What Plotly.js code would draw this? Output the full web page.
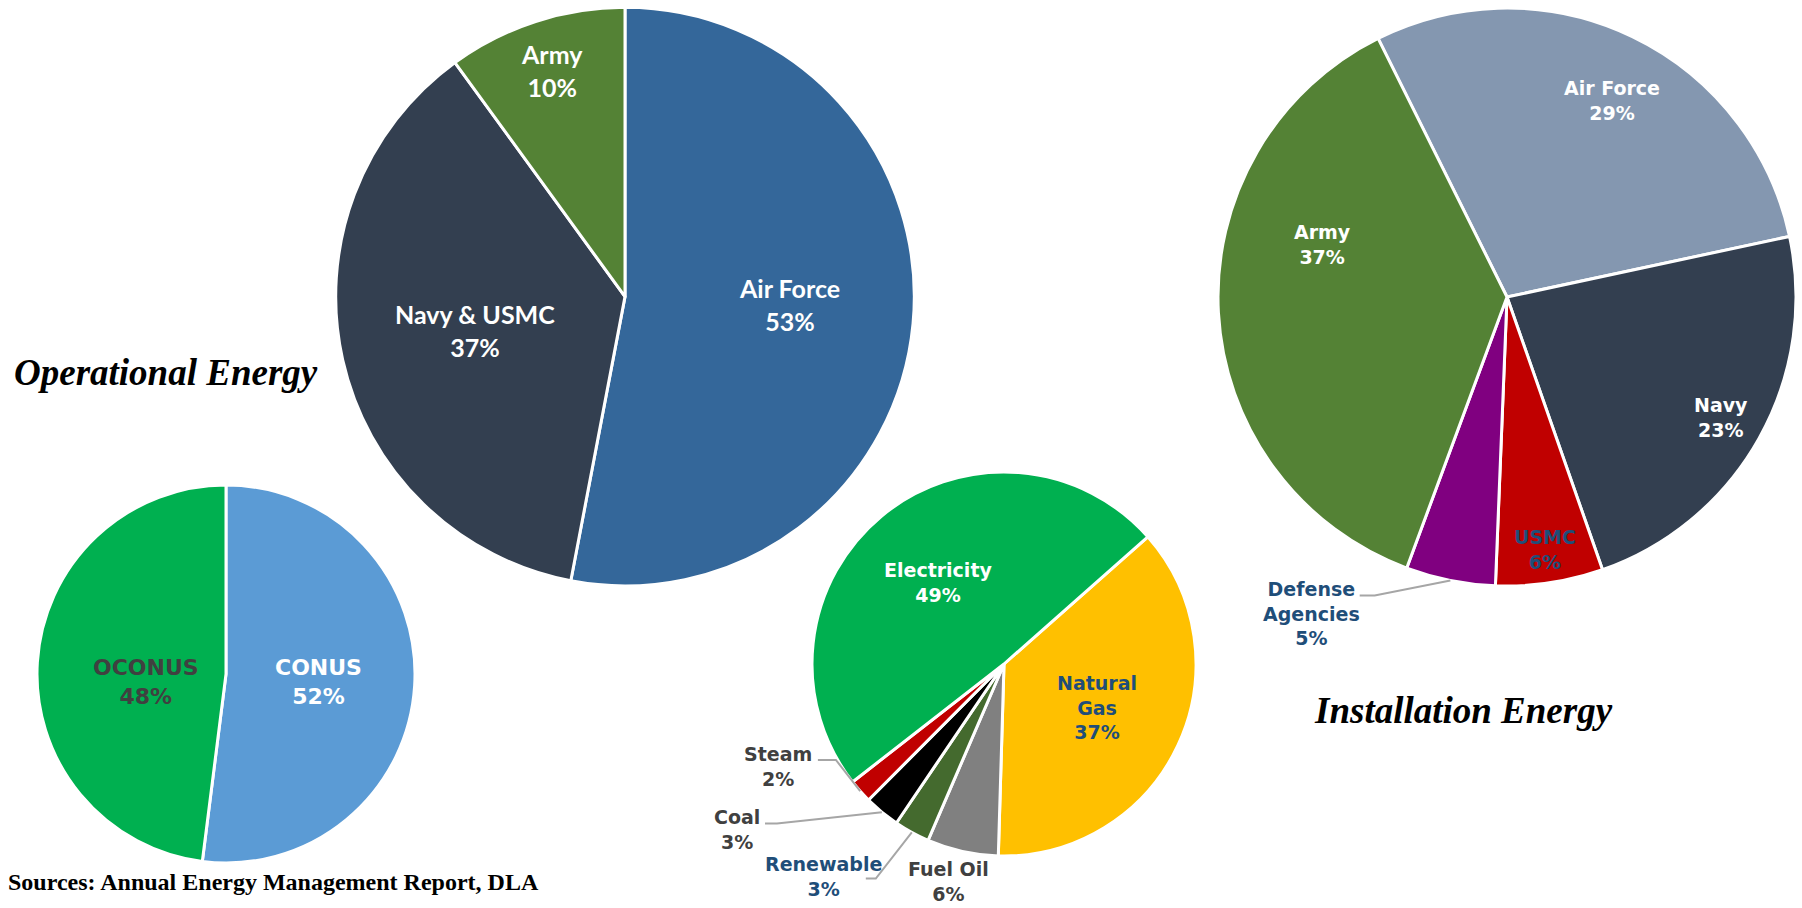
<!DOCTYPE html>
<html><head><meta charset="utf-8">
<script src="https://cdn.plot.ly/plotly-3.0.1.min.js"></script>
<style>html,body{margin:0;padding:0;background:#fff;} #chart{width:1802px;height:908px;}</style>
</head><body><div id="chart"></div>
<script>
// ---- Data ----
// Operational energy by service
const opLabels = ['Air Force', 'Navy & USMC', 'Army'];
const opValues = [53, 37, 10];
// Operational energy by location
const locLabels = ['CONUS', 'OCONUS'];
const locValues = [52, 48];
// Installation energy by fuel type
const fuelLabels = ['Natural Gas', 'Fuel Oil', 'Renewable', 'Coal', 'Steam', 'Electricity'];
const fuelValues = [37, 6, 3, 3, 2, 49];
// Installation energy by component
const instLabels = ['Air Force', 'Navy', 'USMC', 'Defense Agencies', 'Army'];
const instValues = [29, 23, 6, 5, 37];

// ---- Layout / style ----
const W = 1802, H = 908;
const pies = [
  {labels: opLabels, values: opValues, cx: 625, cy: 296.6, r: 289.3, rotation: 0,
   colors: ['#34679A', '#333F50', '#548235'], textColors: ['#FFFFFF', '#FFFFFF', '#FFFFFF'],
   family: 'Lato, sans-serif', size: 25, bold: true,
   place: [[0.569, -2.6], [0.530, 0], [0.822, 0]], wrap: [false, false, false]},
  {labels: locLabels, values: locValues, cx: 226, cy: 674, r: 189, rotation: 0,
   colors: ['#5B9BD5', '#00B050'], textColors: ['#FFFFFF', '#404040'],
   family: 'DejaVu Sans', size: 22, bold: true,
   place: [[0.494, 1.6], [0.427, -9.6]], wrap: [false, false]},
  {labels: fuelLabels, values: fuelValues, cx: 1004, cy: 664, r: 192, rotation: 48.5,
   colors: ['#FFC000', '#808080', '#446A2E', '#000000', '#C00000', '#00B050'],
   textColors: ['#1F4E79', '#404040', '#1F4E79', '#404040', '#404040', '#FFFFFF'],
   family: 'DejaVu Sans', size: 19, bold: true,
   place: [[0.536, 0.2], [1.17, 1.8], [1.45, 11.7], [1.639, 18.7], [1.29, 17.1], [0.548, 0.9]],
   wrap: [true, false, false, false, false, false]},
  {labels: instLabels, values: instValues, cx: 1507, cy: 297, r: 289, rotation: -26.5,
   colors: ['#8497B0', '#333F50', '#C00000', '#800080', '#548235'],
   textColors: ['#FFFFFF', '#FFFFFF', '#1F4E79', '#1F4E79', '#FFFFFF'],
   family: 'DejaVu Sans', size: 19, bold: true,
   place: [[0.771, 2.5], [0.85, 0], [0.883, 0], [1.289, 20.4], [0.663, 18.95]],
   wrap: [false, false, false, true, false]}
];
// leader lines: pie index, slice index, elbow [radial factor, angle offset], horizontal segment length
const leaders = [
  {pie: 2, slice: 4, elbow: [1.008, 11.8], hl: -18},
  {pie: 2, slice: 3, elbow: [1.445, 15.4], hl: -12},
  {pie: 2, slice: 2, elbow: [1.302, 2.15], hl: -10},
  {pie: 3, slice: 3, elbow: [1.13, 12.6], hl: -15}
];

// ---- helpers ----
const sum = a => a.reduce((s, v) => s + v, 0);
const px = x => x / W;
const py = y => 1 - y / H;
function mids(p) {
  const t = sum(p.values); let c = 0;
  return p.values.map(v => { const m = p.rotation + 360 * (c + v / 2) / t; c += v; return m; });
}
function polar(p, f, ang) {
  const a = ang * Math.PI / 180;
  return [p.cx + f * p.r * Math.sin(a), p.cy - f * p.r * Math.cos(a)];
}

const traces = [], annotations = [], shapes = [];
pies.forEach(p => {
  traces.push({
    type: 'pie', labels: p.labels, values: p.values, sort: false,
    direction: 'clockwise', rotation: p.rotation,
    marker: {colors: p.colors, line: {color: '#FFFFFF', width: 3}},
    textinfo: 'none', hoverinfo: 'label+percent', showlegend: false,
    domain: {x: [px(p.cx - p.r), px(p.cx + p.r)], y: [py(p.cy + p.r), py(p.cy - p.r)]}
  });
  const t = sum(p.values);
  const m = mids(p);
  p.mid = m;
  p.labels.forEach((lab, i) => {
    const name = p.wrap[i] ? lab.replace(' ', '<br>') : lab;
    let txt = name + '<br>' + Math.round(p.values[i] / t * 100) + '%';
    if (p.bold) txt = '<b>' + txt.split('<br>').join('</b><br><b>') + '</b>';
    const [x, y] = polar(p, p.place[i][0], m[i] + p.place[i][1]);
    annotations.push({
      text: txt, x: px(x), y: py(y), xref: 'paper', yref: 'paper',
      xanchor: 'center', yanchor: 'middle', showarrow: false, align: 'center',
      font: {family: p.family, size: p.size, color: p.textColors[i]}
    });
  });
});
leaders.forEach(l => {
  const p = pies[l.pie];
  const s = polar(p, 1.0, p.mid[l.slice]);
  const e = polar(p, l.elbow[0], p.mid[l.slice] + l.elbow[1]);
  const f = [e[0] + l.hl, e[1]];
  shapes.push({
    type: 'path', xref: 'paper', yref: 'paper', layer: 'above',
    path: `M ${px(s[0])} ${py(s[1])} L ${px(e[0])} ${py(e[1])} L ${px(f[0])} ${py(f[1])}`,
    line: {color: '#A6A6A6', width: 2}
  });
});

annotations.push({
  text: '<b><i>Operational Energy</i></b>', x: px(11.5), y: py(372.5), xref: 'paper', yref: 'paper',
  xanchor: 'left', yanchor: 'middle', showarrow: false,
  font: {family: 'Liberation Serif', size: 37, color: '#000000'}
});
annotations.push({
  text: '<b><i>Installation Energy</i></b>', x: px(1312), y: py(710), xref: 'paper', yref: 'paper',
  xanchor: 'left', yanchor: 'middle', showarrow: false,
  font: {family: 'Liberation Serif', size: 37, color: '#000000'}
});
annotations.push({
  text: '<b>Sources: Annual Energy Management Report, DLA</b>', x: px(6), y: py(882), xref: 'paper', yref: 'paper',
  xanchor: 'left', yanchor: 'middle', showarrow: false,
  font: {family: 'Liberation Serif', size: 24, color: '#000000'}
});

Plotly.newPlot('chart', traces, {
  width: W, height: H, margin: {l: 0, r: 0, t: 0, b: 0},
  paper_bgcolor: '#FFFFFF', plot_bgcolor: '#FFFFFF', showlegend: false,
  annotations: annotations, shapes: shapes
}, {displayModeBar: false, staticPlot: true});
</script>
</body></html>
